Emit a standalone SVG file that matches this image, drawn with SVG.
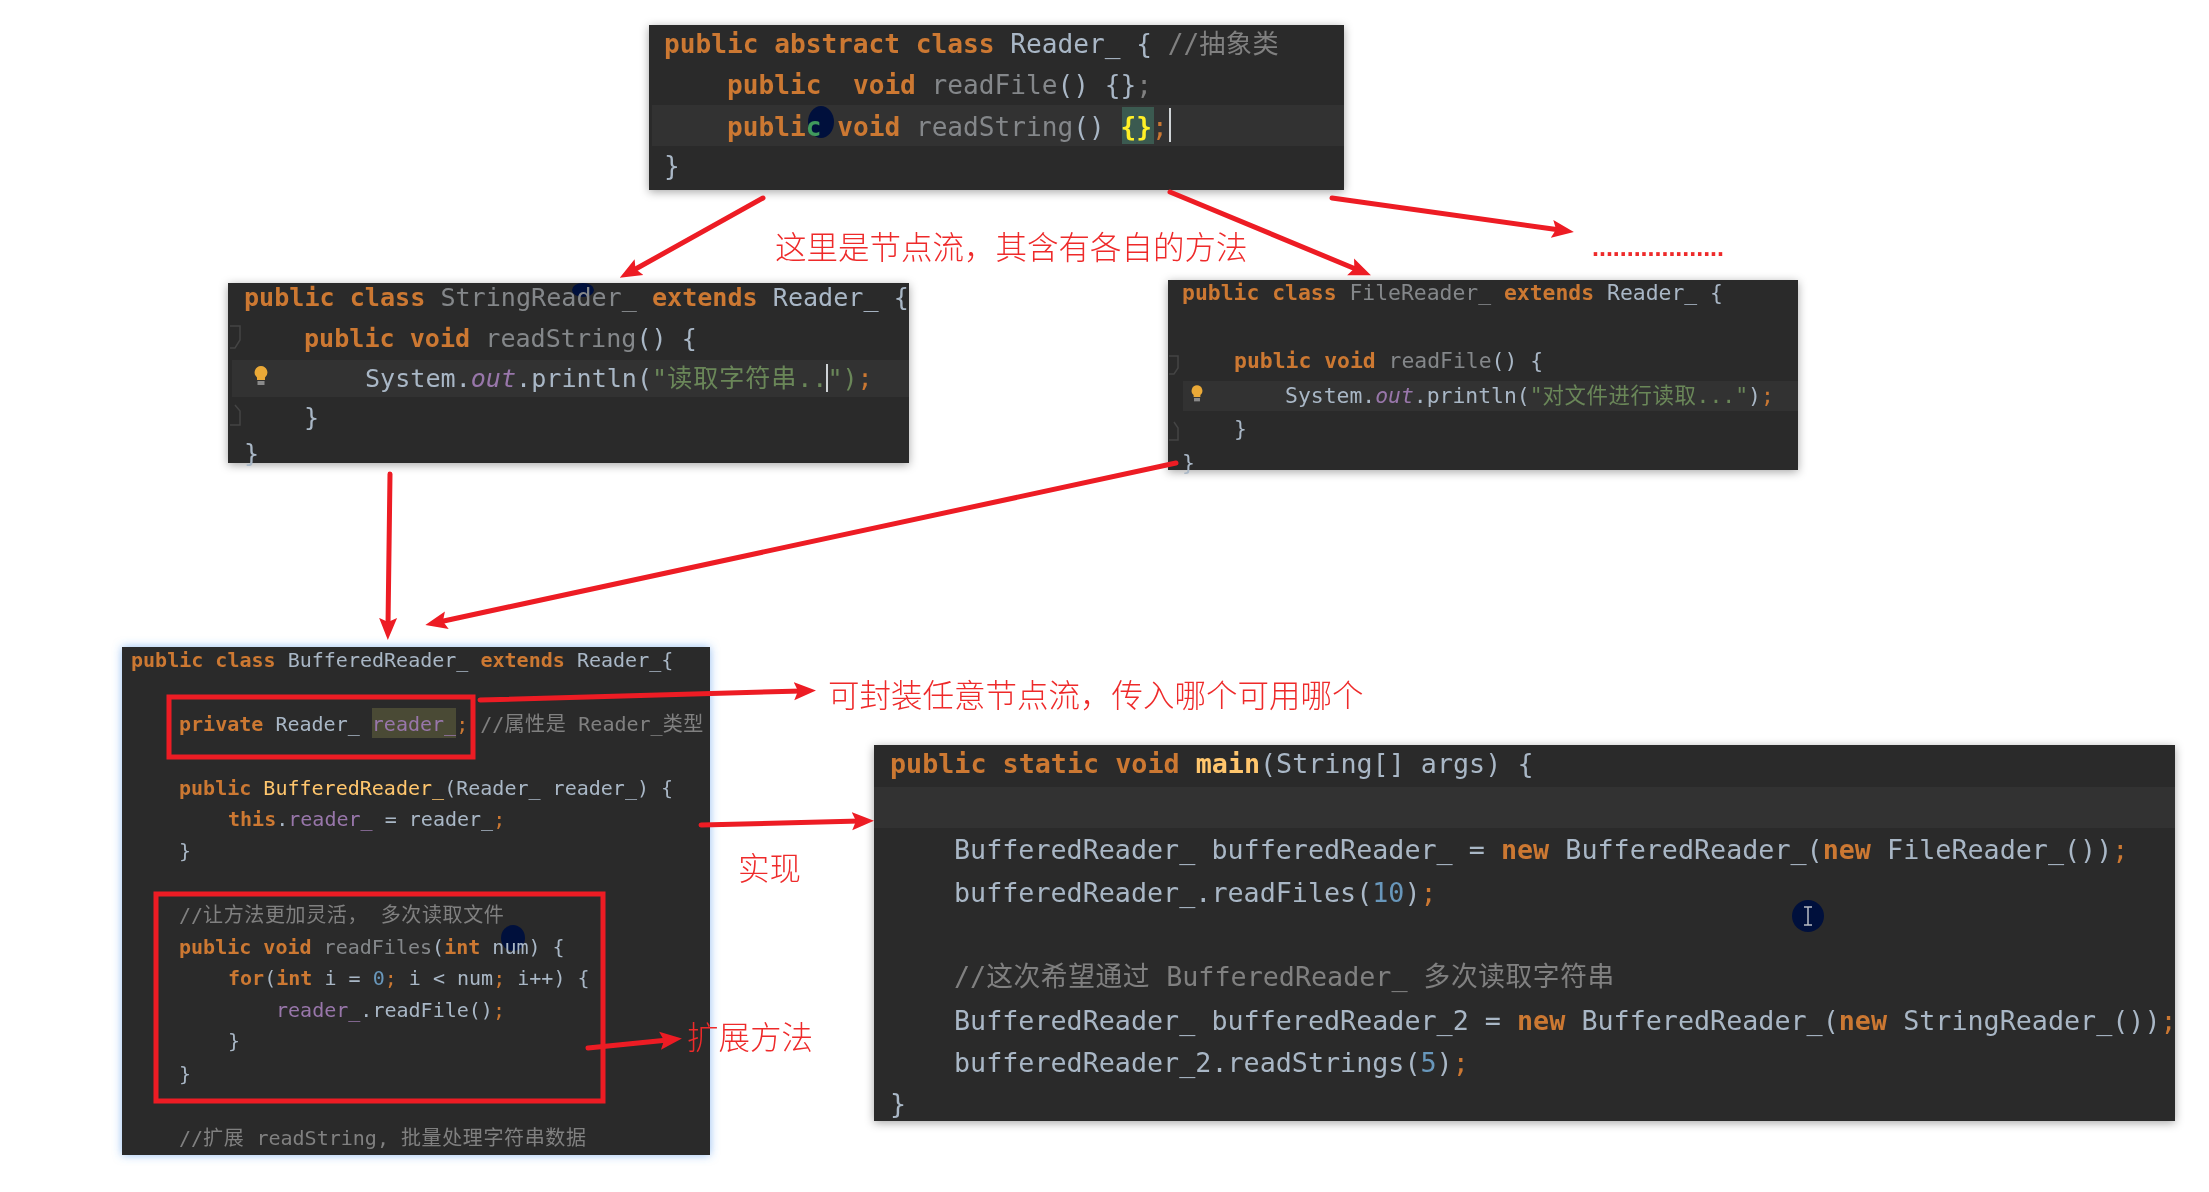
<svg xmlns="http://www.w3.org/2000/svg" width="2209" height="1192" viewBox="0 0 2209 1192">
<style>
text{white-space:pre;font-family:"DejaVu Sans Mono","Noto Sans CJK SC",monospace;fill:#a9b7c6;filter:url(#soft)}
.bg{fill:#2b2b2b}
.hl{fill:#323232}
.k{fill:#cc7832;font-weight:bold}
.q{fill:#cc7832}
.g{fill:#84878a}
.c{fill:#808080}
.s{fill:#6a8759}
.f{fill:#9876aa}
.n{fill:#6897bb}
.y{fill:#ffc66d}
.b{fill:#ffef28;font-weight:bold}
.o{fill:#9876aa;font-style:italic}
.cj{letter-spacing:.6px}
.p1{font-size:26.15px}.p2{font-size:25.1px}.p3{font-size:21.4px}.p4{font-size:20.03px}.p5{font-size:26.72px}
.red{font-family:"Noto Sans CJK SC","Liberation Serif",serif;fill:#ee2a2a;font-size:31.5px;font-weight:300}
.arrow{stroke:#ed1c24;stroke-width:5;fill:none;stroke-linecap:round;marker-end:url(#ah)}
.frame{stroke:#ed1c24;stroke-width:5;fill:none}
.cur{fill:#00103c}
.gut{fill:none;stroke:#444;stroke-width:1.5}
</style>
<defs>
<marker id="ah" markerUnits="userSpaceOnUse" markerWidth="22" markerHeight="20" viewBox="0 0 22 20" refX="8" refY="10" orient="auto"><path d="M0 1 L22 10 L0 19 L4 10Z" fill="#ed1c24"/></marker>
<filter id="soft" x="-2%" y="-20%" width="104%" height="140%"><feGaussianBlur stdDeviation=".45"/></filter>
<filter id="sh" x="-5%" y="-8%" width="110%" height="116%"><feDropShadow dx="0" dy="2" stdDeviation="5" flood-color="#000" flood-opacity=".35"/></filter>
<filter id="glow" x="-5%" y="-5%" width="110%" height="110%"><feDropShadow dx="0" dy="0" stdDeviation="5" flood-color="#4a90e8" flood-opacity=".6"/></filter>
<g id="bulb"><path d="M0-8a6.5 6.5 0 0 1 4 11.500v2.500h-8v-2.500a6.500 6.500 0 0 1 4-11.500z" fill="#eaa937"/><rect x="-3.500" y="7" width="7" height="4" fill="#8a8a8a"/></g>
</defs>

<g id="reader">
<rect class="bg" x="649" y="25" width="695" height="165" filter="url(#sh)"/>
<rect class="hl" x="652" y="105" width="692" height="41"/>
<rect x="1122" y="107" width="32" height="37" fill="#3b5a50"/>
<ellipse class="cur" cx="821" cy="122" rx="13" ry="16"/>
<text class="p1" y="53" x="664"><tspan class="k">public abstract class </tspan>Reader_ { <tspan class="c">//</tspan><tspan class="c cj">抽象类</tspan></text>
<text class="p1" y="94" x="727"><tspan class="k">public  void </tspan><tspan class="g">readFile</tspan>() {}<tspan class="c">;</tspan></text>
<text class="p1" y="136" x="727"><tspan class="k">publi</tspan><tspan style="fill:#3f9a5c;font-weight:bold">c</tspan><tspan class="k"> void </tspan><tspan class="g">readString</tspan>() <tspan class="b">{}</tspan><tspan class="q">;</tspan></text>
<rect x="1169" y="108" width="2" height="34" fill="#cfd3d6"/>
<text class="p1" y="175" x="664">}</text>
</g>

<g id="stringReader">
<rect class="bg" x="228" y="283" width="681" height="180" filter="url(#sh)"/>
<rect class="hl" x="232" y="360" width="677" height="37"/>
<ellipse class="cur" cx="583" cy="290" rx="11" ry="7"/>
<text class="p2" y="306" x="244"><tspan class="k">public class </tspan><tspan class="g">StringReader_ </tspan><tspan class="k">extends </tspan>Reader_ {</text>
<text class="p2" y="347" x="304"><tspan class="k">public void </tspan><tspan class="g">readString</tspan>() {</text>
<text class="p2" y="387" x="365">System.<tspan class="o">out</tspan>.println(<tspan class="s">"</tspan><tspan class="s cj" style="letter-spacing:.9px">读取字符串</tspan><tspan class="s">..")</tspan><tspan class="q">;</tspan></text>
<rect x="826" y="364" width="2" height="28" fill="#cfd3d6"/>
<text class="p2" y="426" x="304">}</text>
<text class="p2" y="462" x="244">}</text>
<path class="gut" d="M230 326h10v14l-5 8-5 0M230 425h10v-14l-5-6"/>
<use href="#bulb" x="261" y="374"/>
</g>

<g id="fileReader">
<rect class="bg" x="1168" y="280" width="630" height="190" filter="url(#sh)"/>
<rect class="hl" x="1183" y="381" width="615" height="30"/>
<text class="p3" y="300" x="1182"><tspan class="k">public class </tspan><tspan class="g">FileReader_ </tspan><tspan class="k">extends </tspan>Reader_ {</text>
<text class="p3" y="368" x="1234"><tspan class="k">public void </tspan><tspan class="g">readFile</tspan>() {</text>
<text class="p3" y="403" x="1285">System.<tspan class="o">out</tspan>.println(<tspan class="s">"</tspan><tspan class="s cj">对文件进行读取</tspan><tspan class="s">..."</tspan>)<tspan class="q">;</tspan></text>
<text class="p3" y="436" x="1234">}</text>
<text class="p3" y="470" x="1182">}</text>
<path class="gut" d="M1169 356h9v12l-4 6-5 0M1169 440h9v-12l-4-6"/>
<use href="#bulb" x="1197" y="392" transform="translate(1197 392) scale(.85) translate(-1197 -392)"/>
</g>

<g id="bufferedReader">
<rect class="bg" x="122" y="647" width="588" height="508" filter="url(#glow)"/>
<rect x="372" y="708" width="84" height="30" fill="#4a4a35"/>
<ellipse class="cur" cx="513" cy="938" rx="12" ry="13"/>
<text class="p4" y="667" x="131"><tspan class="k">public class </tspan>BufferedReader_ <tspan class="k">extends </tspan>Reader_{</text>
<text class="p4" y="731" x="179"><tspan class="k">private </tspan>Reader_ <tspan class="f">reader_</tspan><tspan class="q">;</tspan> <tspan class="c">//</tspan><tspan class="c cj">属性是</tspan><tspan class="c"> Reader_</tspan><tspan class="c cj">类型</tspan></text>
<text class="p4" y="795" x="179"><tspan class="k">public </tspan><tspan class="y">BufferedReader_</tspan>(Reader_ reader_) {</text>
<text class="p4" y="826" x="228"><tspan class="k">this</tspan>.<tspan class="f">reader_</tspan> = reader_<tspan class="q">;</tspan></text>
<text class="p4" y="858" x="179">}</text>
<text class="p4" y="922" x="179"><tspan class="c">//</tspan><tspan class="c cj">让方法更加灵活， 多次读取文件</tspan></text>
<text class="p4" y="954" x="179"><tspan class="k">public void </tspan><tspan class="g">readFiles</tspan>(<tspan class="k">int </tspan>num) {</text>
<text class="p4" y="985" x="228"><tspan class="k">for</tspan>(<tspan class="k">int </tspan>i = <tspan class="n">0</tspan><tspan class="q">;</tspan> i &lt; num<tspan class="q">;</tspan> i++) {</text>
<text class="p4" y="1017" x="276"><tspan class="f">reader_</tspan>.readFile()<tspan class="q">;</tspan></text>
<text class="p4" y="1048" x="228">}</text>
<text class="p4" y="1081" x="179">}</text>
<text class="p4" y="1145" x="179"><tspan class="c">//</tspan><tspan class="c cj">扩展</tspan><tspan class="c"> readString, </tspan><tspan class="c cj">批量处理字符串数据</tspan></text>
</g>

<g id="main">
<rect class="bg" x="874" y="745" width="1301" height="376" filter="url(#sh)"/>
<rect class="hl" x="874" y="787" width="1301" height="41"/>
<text class="p5" y="773" x="890"><tspan class="k">public static void </tspan><tspan class="y" font-weight="bold">main</tspan>(String[] args) {</text>
<text class="p5" y="859" x="954">BufferedReader_ bufferedReader_ = <tspan class="k">new </tspan>BufferedReader_(<tspan class="k">new </tspan>FileReader_())<tspan class="q">;</tspan></text>
<text class="p5" y="902" x="954">bufferedReader_.readFiles(<tspan class="n">10</tspan>)<tspan class="q">;</tspan></text>
<text class="p5" y="986" x="954"><tspan class="c">//</tspan><tspan class="c cj">这次希望通过</tspan><tspan class="c"> BufferedReader_ </tspan><tspan class="c cj">多次读取字符串</tspan></text>
<text class="p5" y="1030" x="954">BufferedReader_ bufferedReader_2 = <tspan class="k">new </tspan>BufferedReader_(<tspan class="k">new </tspan>StringReader_())<tspan class="q">;</tspan></text>
<text class="p5" y="1072" x="954">bufferedReader_2.readStrings(<tspan class="n">5</tspan>)<tspan class="q">;</tspan></text>
<text class="p5" y="1113" x="890">}</text>
<ellipse class="cur" cx="1808" cy="916" rx="16" ry="16"/>
<path d="M1804 907h8M1808 907v18M1804 925h8" stroke="#b8bcc4" stroke-width="1.500" fill="none"/>
</g>

<g id="frames">
<rect class="frame" x="169" y="697" width="304" height="60"/>
<rect class="frame" x="156" y="894" width="447" height="207"/>
</g>

<g id="connectors">
<line class="arrow" x1="763" y1="198" x2="632" y2="271"/>
<line class="arrow" x1="1170" y1="192" x2="1358" y2="270"/>
<line class="arrow" x1="1332" y1="198" x2="1560" y2="230"/>
<line class="arrow" x1="390" y1="474" x2="388" y2="626"/>
<line class="arrow" x1="1176" y1="463" x2="439" y2="622"/>
<line class="arrow" x1="480" y1="700" x2="802" y2="691"/>
<line class="arrow" x1="701" y1="825" x2="860" y2="821"/>
<line class="arrow" x1="588" y1="1048" x2="668" y2="1040"/>
</g>

<g id="labels">
<text class="red" x="775" y="259">这里是节点流，其含有各自的方法</text>
<text class="red" x="1592" y="256" style="font-family:'Liberation Sans',sans-serif;font-size:25px;font-weight:bold">...................</text>
<text class="red" x="828" y="707">可封装任意节点流，传入哪个可用哪个</text>
<text class="red" x="738" y="880">实现</text>
<text class="red" x="687" y="1049">扩展方法</text>
</g>
</svg>
